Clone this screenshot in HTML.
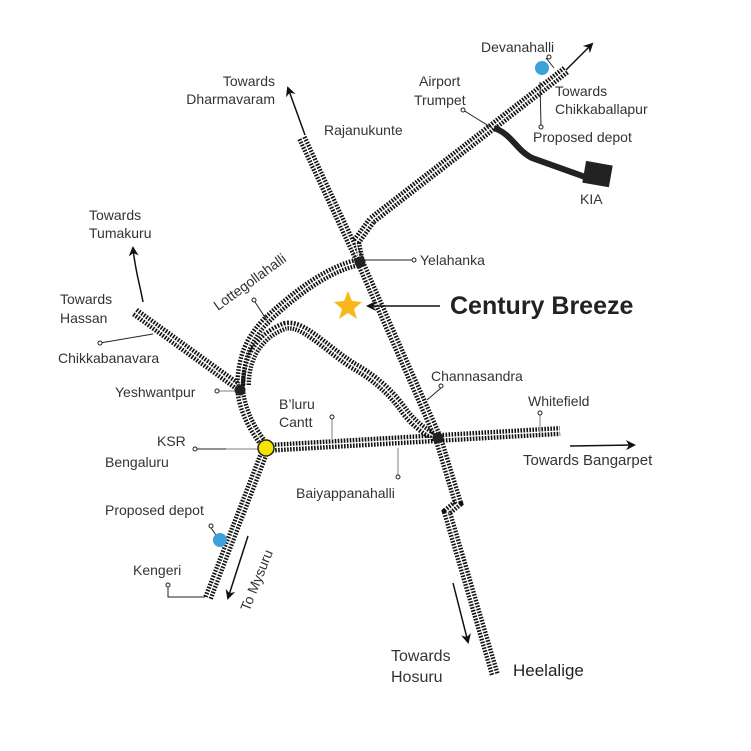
<!DOCTYPE html>
<html><head><meta charset="utf-8"><style>
html,body{margin:0;padding:0;background:#fff}
svg{display:block}
text{font-family:"Liberation Sans",sans-serif;font-size:14px;fill:#333}
.t1{fill:none;stroke:#111;stroke-width:10;stroke-dasharray:1.6 1.4}
.t2{fill:none;stroke:#fff;stroke-width:1.2}
.ld{fill:none;stroke:#222;stroke-width:1}
.lg{fill:none;stroke:#aaa;stroke-width:1.5}
</style></head><body>
<svg width="751" height="751" viewBox="0 0 751 751" xmlns="http://www.w3.org/2000/svg">
<defs>
<marker id="ah" markerWidth="10" markerHeight="10" refX="8" refY="5" orient="auto" markerUnits="userSpaceOnUse">
<path d="M0,0 L10,5 L0,10 L3,5 Z" fill="#111"/></marker>
<g id="tracks">
<path d="M302,138 L360,262 L438,438 L458,503 L447,512 L495,675"/>
<path d="M360,262 L356,242 L372,220 L566,70"/>
<path d="M360,262 C330,268 300,290 272,315 C250,335 240,355 240,390"/>
<path d="M246,385 C246,352 265,333 285,326 C302,322 322,345 352,365 C382,382 395,398 405,412 C415,425 428,434 438,438"/>
<path d="M135,312 L240,388"/>
<path d="M240,390 C244,420 258,435 266,448"/>
<path d="M266,448 L208,598"/>
<path d="M266,448 L438,438 L560,431"/>
</g>
</defs>
<use href="#tracks" class="t1"/>
<use href="#tracks" class="t2"/>

<path d="M494,128 C512,134 516,150 532,158 L588,178" fill="none" stroke="#222" stroke-width="6"/>
<rect x="584" y="163" width="27" height="22" fill="#222" transform="rotate(10 597 174)"/>

<path d="M305,135 L288,88" stroke="#111" stroke-width="1.5" marker-end="url(#ah)"/>
<path d="M566,70 L592,44" stroke="#111" stroke-width="1.5" marker-end="url(#ah)"/>
<path d="M143,302 C140,285 135,270 133,248" fill="none" stroke="#111" stroke-width="1.5" marker-end="url(#ah)"/>
<path d="M570,446 L634,445" stroke="#111" stroke-width="1.5" marker-end="url(#ah)"/>
<path d="M453,583 L468,642" stroke="#111" stroke-width="1.5" marker-end="url(#ah)"/>
<path d="M248,536 L228,598" stroke="#111" stroke-width="1.5" marker-end="url(#ah)"/>
<path d="M440,306 L368,306" stroke="#111" stroke-width="1.5" marker-end="url(#ah)"/>

<path class="ld" d="M363,260 L413,260"/><circle cx="414" cy="260" r="2" fill="#fff" stroke="#222"/>
<path class="ld" d="M463,110 L492,128"/><circle cx="463" cy="110" r="2" fill="#fff" stroke="#222"/>
<path class="ld" d="M554,68 L546,58"/><circle cx="549" cy="57" r="2" fill="#fff" stroke="#222"/>
<path class="ld" d="M540,82 L541,126"/><circle cx="541" cy="127" r="2" fill="#fff" stroke="#222"/>
<path class="ld" d="M427,400 L441,388"/><circle cx="441" cy="386" r="2" fill="#fff" stroke="#222"/>
<path class="ld" d="M255,302 L270,325"/><circle cx="254" cy="300" r="2" fill="#fff" stroke="#222"/>
<path class="ld" d="M100,343 L153,334"/><circle cx="100" cy="343" r="2" fill="#fff" stroke="#222"/>
<path class="lg" d="M218,391 L236,391"/><circle cx="217" cy="391" r="2" fill="#fff" stroke="#222"/>
<path class="ld" d="M196,449 L226,449"/><path class="lg" d="M226,449 L262,449"/><circle cx="195" cy="449" r="2" fill="#fff" stroke="#222"/>
<path class="lg" d="M332,418 L332,440"/><circle cx="332" cy="417" r="2" fill="#fff" stroke="#222"/>
<path class="lg" d="M398,448 L398,476"/><circle cx="398" cy="477" r="2" fill="#fff" stroke="#222"/>
<path class="lg" d="M540,414 L540,433"/><circle cx="540" cy="413" r="2" fill="#fff" stroke="#222"/>
<path class="ld" d="M211,528 L216,535"/><circle cx="211" cy="526" r="2" fill="#fff" stroke="#222"/>
<path class="ld" d="M168,585 L168,597 L205,597"/><circle cx="168" cy="585" r="2" fill="#fff" stroke="#222"/>

<circle cx="360" cy="262" r="5.5" fill="#222"/>
<circle cx="240" cy="390" r="5.5" fill="#222"/>
<circle cx="438" cy="438" r="5.5" fill="#222"/>
<circle cx="266" cy="448" r="8" fill="#f5e400" stroke="#222" stroke-width="1.5"/>
<circle cx="542" cy="68" r="7" fill="#3ca0db"/>
<circle cx="220" cy="540" r="7" fill="#3ca0db"/>

<polygon points="348,291 352,301 362,302 354,309 357,319 348,313 339,319 342,309 334,302 344,301" fill="#f8b81c"/>

<text x="275" y="86" text-anchor="end">Towards</text>
<text x="275" y="104" text-anchor="end">Dharmavaram</text>
<text x="324" y="135">Rajanukunte</text>
<text x="481" y="52">Devanahalli</text>
<text x="419" y="86">Airport</text>
<text x="414" y="105">Trumpet</text>
<text x="555" y="96">Towards</text>
<text x="555" y="114">Chikkaballapur</text>
<text x="533" y="142">Proposed depot</text>
<text x="580" y="204">KIA</text>
<text x="89" y="220">Towards</text>
<text x="89" y="238">Tumakuru</text>
<text x="60" y="304">Towards</text>
<text x="60" y="323">Hassan</text>
<text x="58" y="363">Chikkabanavara</text>
<text x="420" y="265">Yelahanka</text>
<text x="0" y="0" transform="translate(218,311) rotate(-36)">Lottegollahalli</text>
<text x="450" y="314" style="font-size:25px;font-weight:bold;fill:#222">Century Breeze</text>
<text x="431" y="381">Channasandra</text>
<text x="115" y="397">Yeshwantpur</text>
<text x="279" y="409">B’luru</text>
<text x="279" y="427">Cantt</text>
<text x="528" y="406">Whitefield</text>
<text x="157" y="446">KSR</text>
<text x="105" y="467">Bengaluru</text>
<text x="523" y="465" style="font-size:15px">Towards Bangarpet</text>
<text x="296" y="498">Baiyappanahalli</text>
<text x="105" y="515">Proposed depot</text>
<text x="133" y="575">Kengeri</text>
<text x="0" y="0" transform="translate(249,612) rotate(-68)">To Mysuru</text>
<text x="391" y="661" style="font-size:16px">Towards</text>
<text x="391" y="682" style="font-size:16px">Hosuru</text>
<text x="513" y="676" style="font-size:17px;fill:#222">Heelalige</text>
</svg>
</body></html>
